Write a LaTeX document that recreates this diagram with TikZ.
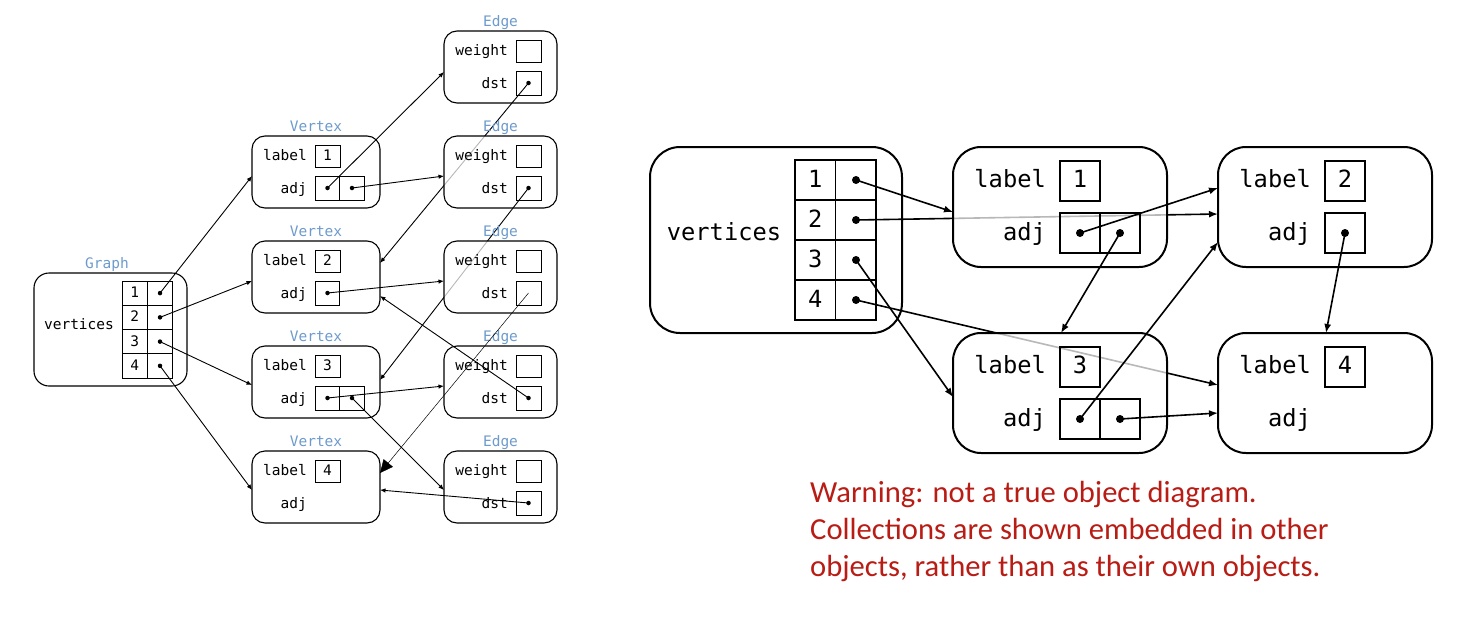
\documentclass[tikz,border=0pt]{standalone}
\usepackage{fontspec}
\newfontfamily\monof{DejaVu Sans Mono}
\newfontfamily\warnfont{Carlito}
\usetikzlibrary{arrows.meta,calc}
\definecolor{lblue}{RGB}{110,155,205}
\definecolor{warnred}{RGB}{185,28,20}
\newcommand\smallmono{\monof\fontsize{14.5}{17}\selectfont}
\newcommand\bigmono{\monof\fontsize{23.7}{28}\selectfont}
\newcommand\warnsize{\warnfont\fontsize{30.6}{36}\selectfont}

% left vertex: [opt]{name}{top}{label}{ncells}
\newcommand\lvtx[5][]{%
  \node[lbox, minimum width=128pt, #1] (#2) at (252,#3) {};
  \node[ltitle] at (316,{#3-5}) {Vertex};
  \node[ltxt] at (307,{#3+24}) {label};
  \node[lcell] (#2l) at (315,{#3+9}) {};
  \node[lnum] at (327.5,{#3+24}) {#4};
  \node[ltxt] at (307,{#3+57}) {adj};
  \ifnum#5>0 \node[lcell, minimum height=24pt, minimum width=24.5pt] (#2c1) at (315,{#3+40}) {};
    \node[ldot] (#2a) at (327.5,{#3+52}) {};\fi
  \ifnum#5>1 \node[lcell, minimum height=24pt, minimum width=24.5pt] (#2c2) at (339.5,{#3+40}) {};
    \node[ldot] (#2b) at (352,{#3+52}) {};\fi
}
% left edge: [opt]{name}{top}{dot}
\newcommand\ledge[4][]{%
  \node[lbox, minimum width=113pt, #1] (#2) at (444,#3) {};
  \node[ltitle] at (500.5,{#3-5}) {Edge};
  \node[ltxt] at (508,{#3+24}) {weight};
  \node[lcell] (#2w) at (516,{#3+9}) {};
  \node[ltxt] at (508,{#3+57}) {dst};
  \node[lcell, minimum height=24pt] (#2v) at (516,{#3+40}) {};
  \ifnum#4=1 \node[ldot] (#2d) at (528.5,{#3+52}) {};\else \coordinate (#2d) at (528.5,{#3+52});\fi
}
% right vertex: [opt]{name}{left}{top}{label}{ncells}
\newcommand\rvtx[6][]{%
  \node[rbox, #1] (#2) at (#3,#4) {};
  \node[rtxt] at ({#3+93},{#4+40}) {label};
  \node[rcell] (#2l) at ({#3+107},{#4+14}) {};
  \node[rnum] at ({#3+127},{#4+40}) {#5};
  \node[rtxt] at ({#3+93},{#4+93}) {adj};
  \ifnum#6>0 \node[rcell] (#2c1) at ({#3+107},{#4+66}) {};
    \node[rdot] (#2a) at ({#3+127},{#4+86}) {};\fi
  \ifnum#6>1 \node[rcell] (#2c2) at ({#3+147},{#4+66}) {};
    \node[rdot] (#2b) at ({#3+167},{#4+86}) {};\fi
}

\begin{document}
\begin{tikzpicture}[x=1pt,y=-1pt,
  lbox/.style={draw, line width=1.1pt, rounded corners=13pt, fill=white, inner sep=0pt, outer sep=0pt, anchor=north west, minimum height=72pt},
  lcell/.style={draw, line width=0.9pt, inner sep=0pt, outer sep=0pt, anchor=north west, minimum width=25pt, minimum height=22pt},
  ltxt/.style={font=\smallmono, inner sep=0pt, anchor=base east},
  lnum/.style={font=\smallmono, inner sep=0pt, anchor=base},
  ltitle/.style={font=\smallmono, text=lblue, inner sep=0pt, anchor=base},
  ldot/.style={circle, fill=black, inner sep=0pt, minimum size=4.5pt},
  larr/.style={line width=0.9pt, -{Latex[length=5.5pt,width=4.5pt]}},
  thinarr/.style={line width=0.5pt, -{Triangle[length=13pt,width=12pt]}},
  rbox/.style={draw, line width=2pt, rounded corners=28pt, fill=white, inner sep=0pt, outer sep=0pt, anchor=north west, minimum width=214pt, minimum height=120pt},
  rcell/.style={draw, line width=1.8pt, inner sep=0pt, outer sep=0pt, anchor=north west, minimum width=40pt, minimum height=40pt},
  rtxt/.style={font=\bigmono, inner sep=0pt, anchor=base east},
  rnum/.style={font=\bigmono, inner sep=0pt, anchor=base},
  rdot/.style={circle, fill=black, inner sep=0pt, minimum size=8pt},
  rarr/.style={line width=1.6pt, -{Latex[length=9pt,width=7pt]}},
  ghost/.style={fill opacity=0.72},
  warn/.style={font=\warnsize, text=warnred, inner sep=0pt, anchor=base west}]
\fill[white] (0,0) rectangle (1462,616);
\useasboundingbox (0,0) rectangle (1462,616);

% ---------- left diagram ----------
\lvtx{lv1}{136}{1}{2}
\lvtx{lv2}{241}{2}{1}
\lvtx{lv3}{346}{3}{2}
\lvtx{lv4}{451}{4}{0}
\ledge{le0}{31}{1}
\draw[larr] (le0d.center) -- ($(lv2.north east)+(0,22)$);
\ledge[ghost]{le1}{136}{1}
\draw[larr] (le1d.center) -- ($(lv3.north east)+(0,34)$);
\ledge[ghost]{le2}{241}{0}
\ledge{le3}{346}{1}
\ledge{le4}{451}{1}

\node[lbox, minimum width=153pt, minimum height=113pt, rounded corners=15pt] (lg) at (34,273) {};
\node[ltitle] at (107,268) {Graph};
\node[lnum] at (79,329) {vertices};
\foreach \r in {1,...,4}{
  \node[lcell, minimum width=25.5pt, minimum height=24.25pt] (lgn\r) at (122,{281+24.25*(\r-1)}) {};
  \node[lcell, minimum width=24.5pt, minimum height=24.25pt] (lgp\r) at (147.5,{281+24.25*(\r-1)}) {};
  \node[lnum] at (134.75,{281+24.25*(\r-1)+16.5}) {\r};
  \node[ldot] (lg\r) at (160,{281+24.25*(\r-1)+12.1}) {};
}
\draw[larr] (lg1.center) -- ($(lv1.north west)+(0,40)$);
\draw[larr] (lg2.center) -- ($(lv2.north west)+(0,40)$);
\draw[larr] (lg3.center) -- ($(lv3.north west)+(0,39)$);
\draw[larr] (lg4.center) -- ($(lv4.north west)+(0,39)$);
\draw[larr] (lv1a.center) -- ($(le0.north west)+(0,41)$);
\draw[larr] (lv1b.center) -- ($(le1.north west)+(0,40)$);
\draw[larr] (lv2a.center) -- ($(le2.north west)+(0,40)$);
\draw[larr] (lv3a.center) -- ($(le3.north west)+(0,40)$);
\draw[larr] (lv3b.center) -- ($(le4.north west)+(0,39)$);
\draw[thinarr] (le2d) -- ($(lv4.north east)+(0,22)$);
\draw[larr] (le3d.center) -- ($(lv2.north east)+(0,55)$);
\draw[larr] (le4d.center) -- ($(lv4.north east)+(0,39)$);

% ---------- right diagram ----------
\node[rbox, minimum width=252pt, minimum height=186pt, rounded corners=30pt] (rg) at (650,147) {};
\node[rnum] at (724,240) {vertices};
\foreach \r in {1,...,4}{
  \node[rcell, minimum width=40.5pt] (rgn\r) at (795,{160+40*(\r-1)}) {};
  \node[rcell, minimum width=40.5pt] (rgp\r) at (835.5,{160+40*(\r-1)}) {};
  \node[rnum] at (815.25,{160+40*(\r-1)+27}) {\r};
  \node[rdot] (rg\r) at (856,{160+40*(\r-1)+20}) {};
}
\rvtx{rv2}{1218}{147}{2}{1}
\rvtx{rv4}{1218}{333}{4}{0}
\draw[rarr] (rg2.center) -- ($(rv2.north west)+(0,67)$);
\draw[rarr] (rg4.center) -- ($(rv4.north west)+(0,52)$);
\rvtx[ghost]{rv1}{953}{147}{1}{2}
\rvtx[ghost]{rv3}{953}{333}{3}{2}
\draw[rarr] (rg1.center) -- ($(rv1.north west)+(0,65)$);
\draw[rarr] (rg3.center) -- ($(rv3.north west)+(0,64)$);
\draw[rarr] (rv1a.center) -- ($(rv2.north west)+(0,41)$);
\draw[rarr] (rv1b.center) -- ($(rv3.north west)+(108,0)$);
\draw[rarr] (rv2a.center) -- ($(rv4.north west)+(108,0)$);
\draw[rarr] (rv3a.center) -- ($(rv2.north west)+(0,95)$);
\draw[rarr] (rv3b.center) -- ($(rv4.north west)+(0,80)$);

% ---------- warning ----------
\node[warn] (w1) at (810,502) {Warning: not a true object diagram.};
\node[warn] (w2) at (810,539) {Collections are shown embedded in other};
\node[warn] (w3) at (810,576) {objects, rather than as their own objects.};
\end{tikzpicture}
\end{document}
